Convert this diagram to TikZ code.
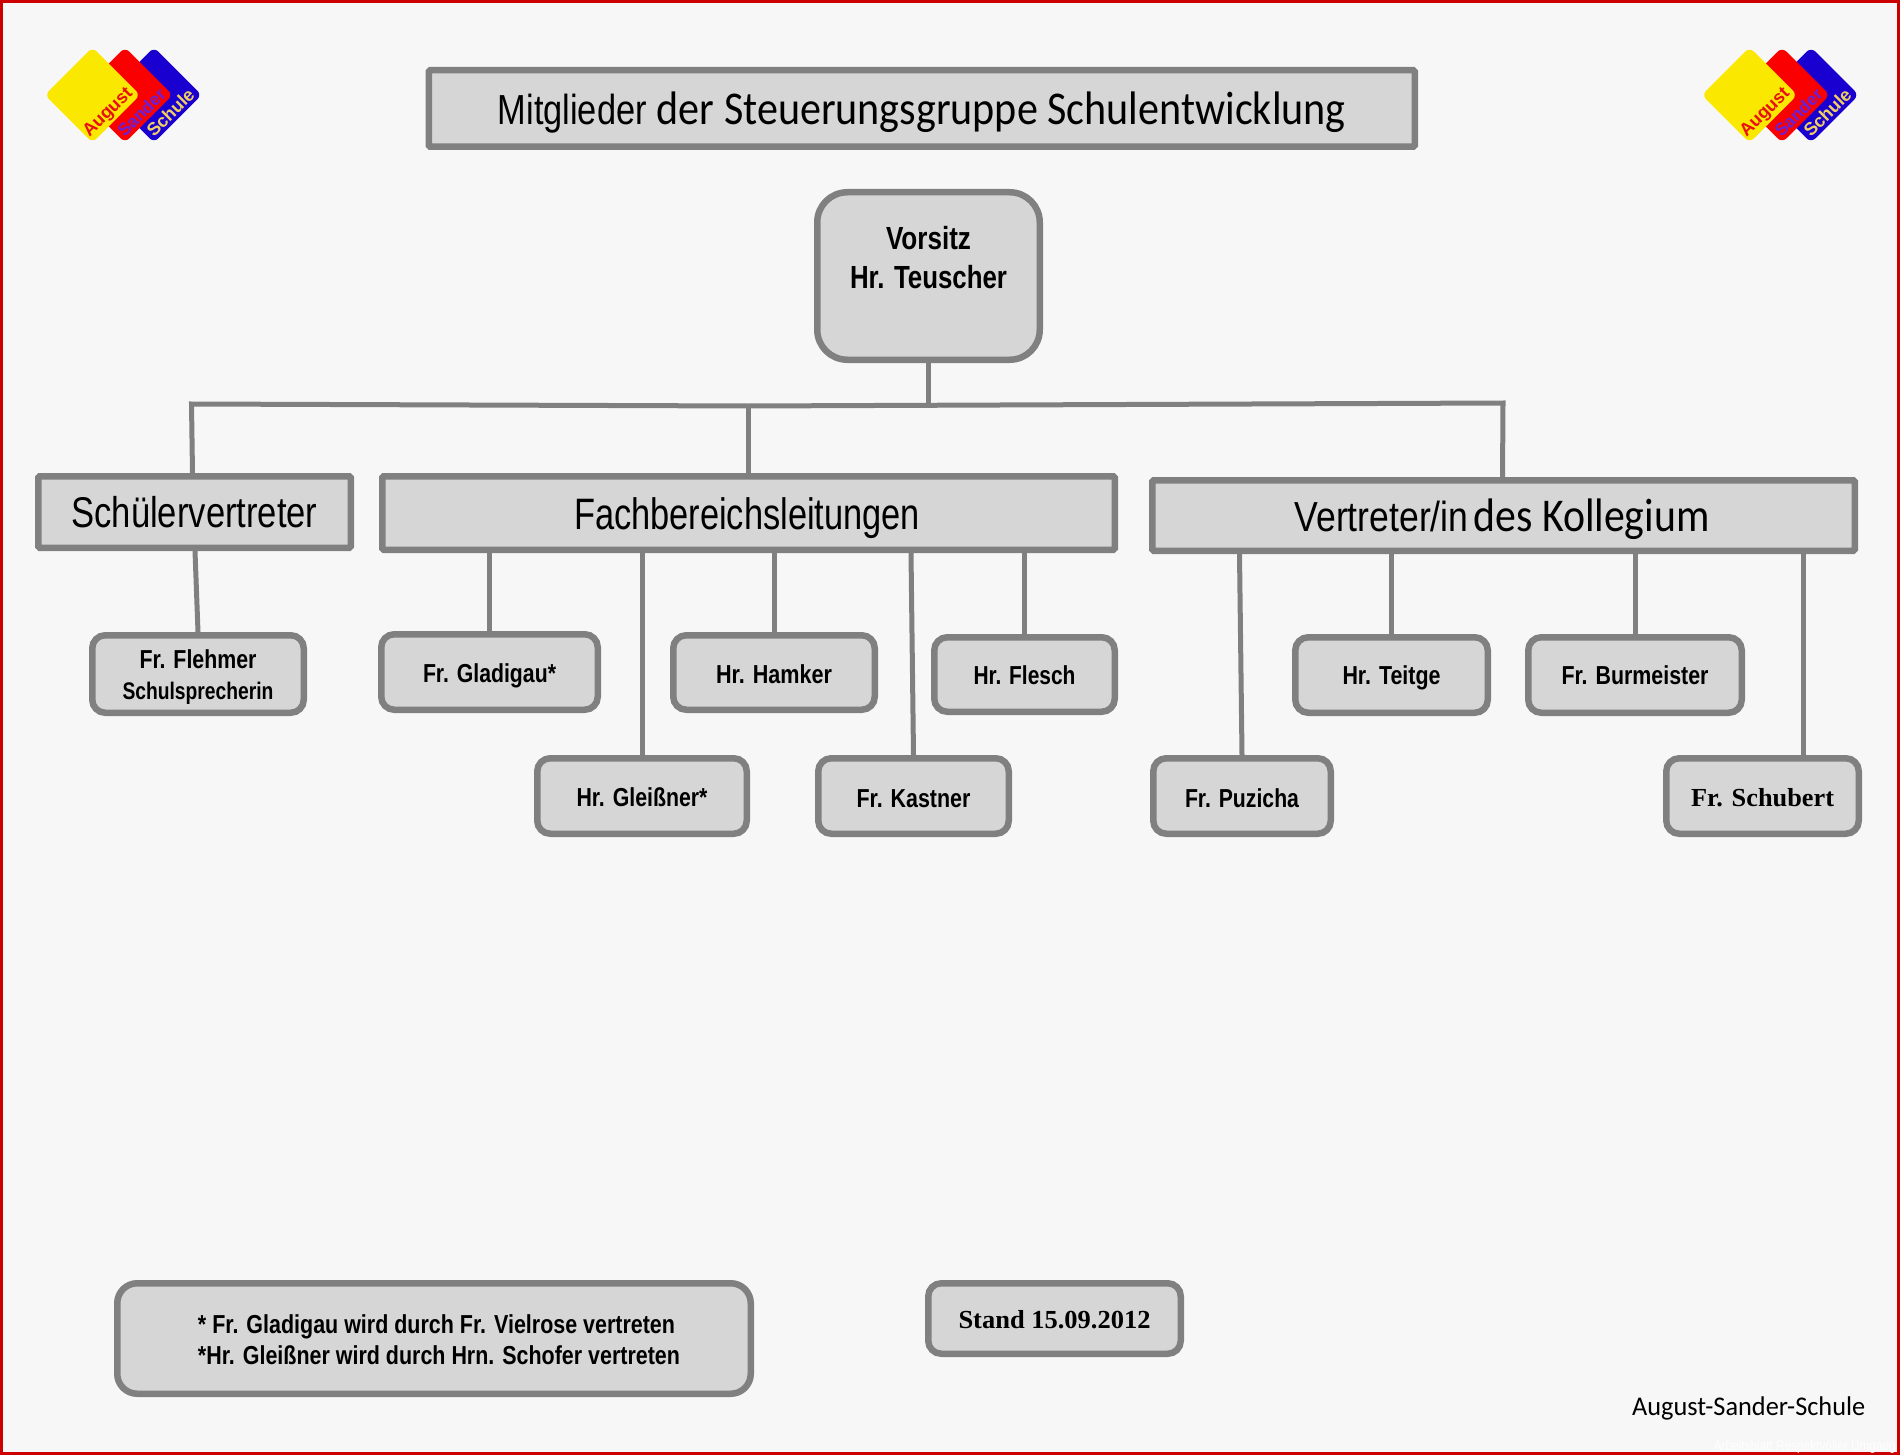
\documentclass[tikz,border=0pt]{standalone}
\usepackage{fontspec}
\usepackage{graphicx}
\setmainfont{Liberation Sans}
\newfontfamily\carl{Carlito}
\newfontfamily\serf{Liberation Serif}
\definecolor{pagebg}{HTML}{F7F7F7}
\definecolor{frame}{HTML}{CC0000}
\definecolor{boxfill}{HTML}{D6D6D6}
\definecolor{boxline}{HTML}{808080}
\definecolor{logoY}{HTML}{FBE800}
\definecolor{logoR}{HTML}{FA0000}
\definecolor{logoB}{HTML}{1A00D0}
\definecolor{txtA}{HTML}{E81010}
\definecolor{txtS}{HTML}{6A20D8}
\definecolor{txtC}{HTML}{F0D060}
% text squeezed to a given width: width, size, text
\newcommand\sq[3]{\resizebox{#1pt}{\height}{\fontsize{#2}{#2}\selectfont #3}}
% zero-size placed text inside a node: dx, dy (baseline below node centre), content
\newcommand\bl[3]{\makebox[0pt]{\hspace*{\dimexpr#1pt*2\relax}\raisebox{\dimexpr-#2pt\relax}[0pt][0pt]{#3}}}
\tikzset{
  hard/.style={draw=boxline,fill=boxfill,line width=6.5pt,rectangle,rounded corners=1.5pt,inner sep=0pt,text=black},
  soft/.style={hard,rounded corners=13pt},
  wire/.style={draw=boxline,line width=5pt},
  tile/.style={rectangle,rotate=45,minimum size=67.5pt,rounded corners=6pt,inner sep=0pt},
  tiletext/.style={rotate=45,inner sep=0pt,font=\bfseries,text height=12.5pt,text depth=0pt}
}
\newcommand\bx[7]{\node[#1,minimum width={(#5-#3-6.5)*1pt},minimum height={(#6-#4-6.5)*1pt}] (#2) at ({(#3+#5)/2},{(#4+#6)/2}) {#7};}
\newcommand\logoat[2]{%
  \node[tile,fill=logoB] (#1b) at (#2+154,95) {};
  \node[tile,fill=logoR] (#1r) at (#2+125,95) {};
  \node[tile,fill=logoY] (#1y) at (#2+92.5,95) {};
  \node[tiletext,text=txtA] (#1ta) at (#2+107,111.5) {\fontsize{18}{18}\selectfont August};
  \node[tiletext,text=txtS] (#1ts) at (#2+141.5,112.5) {\fontsize{17.5}{18}\selectfont Sander};
  \node[tiletext,text=txtC] (#1tc) at (#2+170.5,112.5) {\fontsize{18}{18}\selectfont Schule};
}
\begin{document}
\begin{tikzpicture}[x=1pt,y=-1pt]
\useasboundingbox (0,0) rectangle (1900,1455);
\fill[pagebg] (0,0) rectangle (1900,1455);
\draw[frame,line width=3pt] (1.5,1.5) rectangle (1898.5,1453.5);
\logoat{l}{0}
\logoat{r}{1657}
\bx{hard}{title}{425.5}{67}{1418}{150}{\bl{0}{16.5}{\sq{149}{42}{Mitglieder}\hspace{10pt}\sq{689}{47}{\carl der Steuerungsgruppe Schulentwicklung}}}
\bx{soft,rounded corners=30pt}{vorsitz}{814}{189}{1043}{363}{\bl{0}{-26}{\sq{85}{32}{\bfseries Vorsitz}}\bl{0}{13}{\sq{157}{32}{\bfseries Hr. Teuscher}}}
\bx{hard}{schueler}{35}{473}{354}{551}{\bl{0}{15}{\sq{246}{43}{Schülervertreter}}}
\bx{hard}{fach}{379}{473}{1118}{553}{\bl{-1.5}{16}{\sq{346}{44}{Fachbereichsleitungen}}}
\bx{hard}{vert}{1149}{477}{1858}{554}{\bl{-1.5}{16}{\sq{174}{42}{Vertreter/in}\hspace{5pt}\sq{236}{47}{\carl des Kollegium}}}
\bx{soft}{flehmer}{89}{632}{307}{716}{\bl{0}{-6}{\sq{117}{26}{\bfseries Fr. Flehmer}}\bl{0}{25}{\sq{151}{24}{\bfseries Schulsprecherin}}}
\bx{soft}{gladigau}{378}{631}{601}{713}{\bl{0}{10}{\sq{133}{26}{\bfseries Fr. Gladigau*}}}
\bx{soft}{hamker}{670}{632}{878}{713}{\bl{0}{10.5}{\sq{116}{26}{\bfseries Hr. Hamker}}}
\bx{soft}{flesch}{931}{634}{1118}{715}{\bl{0}{10}{\sq{102}{26}{\bfseries Hr. Flesch}}}
\bx{soft}{gleissner}{534}{755}{750}{837}{\bl{0}{10}{\sq{131}{26}{\bfseries Hr. Gleißner*}}}
\bx{soft}{kastner}{815}{755}{1012}{837}{\bl{0}{11}{\sq{114}{26}{\bfseries Fr. Kastner}}}
\bx{soft}{teitge}{1292}{634}{1491}{716}{\bl{0}{9}{\sq{98}{26}{\bfseries Hr. Teitge}}}
\bx{soft}{burmeister}{1525}{634}{1745}{716}{\bl{0}{9}{\sq{147}{26}{\bfseries Fr. Burmeister}}}
\bx{soft}{puzicha}{1150}{755}{1334}{837}{\bl{0}{11}{\sq{114}{26}{\bfseries Fr. Puzicha}}}
\bx{soft}{schubert}{1663}{755}{1862}{837}{\bl{0}{10}{\sq{143}{26}{\serf\bfseries Fr. Schubert}}}
\bx{soft,rounded corners=20pt}{note}{114}{1280}{754}{1397}{\bl{2.5}{-5.5}{\sq{477}{26}{\bfseries * Fr. Gladigau wird durch Fr. Vielrose vertreten}}\bl{5}{25.5}{\sq{482}{26}{\bfseries *Hr. Gleißner wird durch Hrn. Schofer vertreten}}}
\bx{soft}{stand}{925}{1280}{1184}{1357}{\bl{0}{9.5}{\sq{192}{26}{\serf\bfseries Stand 15.09.2012}}}
\node[inner sep=0pt,anchor=base west] (school) at (1632,1415) {\sq{233}{27}{\carl August-Sander-Schule}};
\node[inner sep=0pt,anchor=base east,text=white] (mark) at (1896,1450) {\sq{182}{14}{Arbeitsblatt Respektvoller Umgang}};
% bus
\coordinate (busL) at (191.5,404);
\coordinate (busM) at (748,406);
\coordinate (busR) at (1503,403);
\draw[wire] ([xshift=-2pt]schueler.north) -- (busL) -- (busM) -- (busR) -- ([xshift=-1pt]vert.north);
\draw[wire] (vorsitz.south) -- (vorsitz.south |- busM);
\draw[wire] (fach.north) -- (fach.north |- busM);
% children
\draw[wire] ([xshift=-3pt]flehmer.north |- schueler.south) -- (flehmer.north);
\draw[wire] (gladigau.north |- fach.south) -- (gladigau.north);
\draw[wire] (gleissner.north |- fach.south) -- (gleissner.north);
\draw[wire] (hamker.north |- fach.south) -- (hamker.north);
\draw[wire] ([xshift=-2.5pt]kastner.north |- fach.south) -- (kastner.north);
\draw[wire] (flesch.north |- fach.south) -- (flesch.north);
\draw[wire] ([xshift=-2.5pt]puzicha.north |- vert.south) -- (puzicha.north);
\draw[wire] (teitge.north |- vert.south) -- (teitge.north);
\draw[wire] (burmeister.north |- vert.south) -- (burmeister.north);
\draw[wire] ([xshift=41pt]schubert.north |- vert.south) -- ([xshift=41pt]schubert.north);
\end{tikzpicture}
\end{document}
